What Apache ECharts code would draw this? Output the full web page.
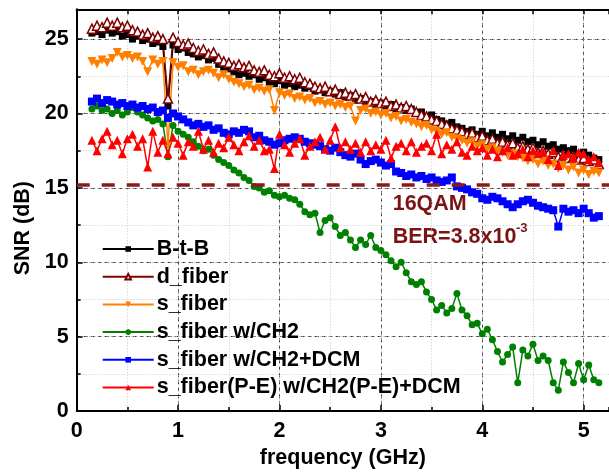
<!DOCTYPE html>
<html>
<head>
<meta charset="utf-8">
<script src="https://cdn.jsdelivr.net/npm/echarts@6/dist/echarts.min.js"></script>
<style>
html,body{margin:0;padding:0;background:#fff;}
#chart{width:609px;height:474px;}
</style>
</head>
<body>
<div id="chart"></div>
<script>
const freq = [
0.15,0.2,0.25,0.3,0.35,0.4,0.45,0.5,0.55,0.6,
0.65,0.7,0.75,0.8,0.85,0.9,0.95,1.0,1.05,1.1,
1.15,1.2,1.25,1.3,1.35,1.4,1.45,1.5,1.55,1.6,
1.65,1.7,1.75,1.8,1.85,1.9,1.95,2.0,2.05,2.1,
2.15,2.2,2.25,2.3,2.35,2.4,2.45,2.5,2.55,2.6,
2.65,2.7,2.75,2.8,2.85,2.9,2.95,3.0,3.05,3.1,
3.15,3.2,3.25,3.3,3.35,3.4,3.45,3.5,3.55,3.6,
3.65,3.7,3.75,3.8,3.85,3.9,3.95,4.0,4.05,4.1,
4.15,4.2,4.25,4.3,4.35,4.4,4.45,4.5,4.55,4.6,
4.65,4.7,4.75,4.8,4.85,4.9,4.95,5.0,5.05,5.1,
5.15];

const snrBtB = [
25.4,25.5,25.3,25.6,25.4,25.5,25.2,25.3,25.0,25.2,
24.9,25.0,24.7,24.8,24.5,20.5,24.6,24.3,24.4,24.1,
24.0,23.8,23.9,23.6,23.7,23.3,23.1,23.0,22.8,22.6,
22.7,22.5,22.6,22.3,22.4,22.1,22.0,22.2,21.9,22.0,
21.8,21.9,21.7,21.8,21.5,21.6,21.4,21.5,21.3,21.4,
21.1,21.2,20.9,21.0,20.7,20.8,20.6,20.7,20.5,20.6,
20.3,20.4,20.2,20.3,20.0,20.1,19.8,19.9,19.6,19.5,
19.3,19.4,19.1,19.0,18.8,18.9,18.6,18.8,18.5,18.7,
18.4,18.6,18.3,18.5,18.2,18.4,18.1,18.2,17.9,18.1,
17.8,17.9,17.6,17.7,17.5,17.6,17.3,17.4,17.2,17.0,
16.9];

const snrDFiber = [
25.7,25.9,25.8,26.1,25.9,26.1,25.8,25.9,25.6,25.5,
25.3,25.4,25.1,25.2,25.0,21.0,25.1,24.8,24.6,24.7,
24.4,24.2,24.3,24.0,24.1,23.7,23.5,23.4,23.2,23.3,
23.1,23.2,22.9,22.8,22.9,22.6,22.5,22.7,22.4,22.5,
22.3,22.4,22.1,22.0,21.8,21.7,21.8,21.5,21.6,21.3,
21.4,21.2,21.3,21.0,21.1,20.8,20.9,20.7,20.8,20.5,
20.6,20.4,20.5,20.3,20.1,19.9,19.8,19.6,19.5,19.3,
19.2,19.0,18.9,18.8,18.6,18.7,18.4,18.5,18.2,18.3,
18.0,18.1,17.9,18.0,17.7,17.8,17.6,17.7,17.4,17.5,
17.3,17.4,17.1,17.2,17.0,17.1,16.9,17.0,16.8,16.9,
16.6];

const snrSFiber = [
23.5,23.3,23.6,23.4,23.7,24.1,23.8,23.9,23.7,23.8,
23.5,22.8,23.6,23.3,23.5,17.9,23.4,23.1,23.2,22.8,
22.9,22.6,22.8,22.9,22.7,22.4,22.6,22.3,22.1,22.0,
21.8,21.9,21.6,21.7,21.5,21.6,20.2,21.4,21.2,21.3,
21.0,21.1,20.9,21.0,20.7,20.8,20.6,20.7,20.5,20.6,
20.4,20.5,19.5,20.2,20.3,20.0,20.1,19.9,20.0,19.7,
19.8,19.5,19.6,19.4,19.3,19.1,19.2,18.9,18.8,18.6,
18.7,18.4,18.3,18.2,18.0,18.1,17.8,17.9,17.6,17.7,
17.5,17.4,17.2,17.3,17.1,17.0,16.8,16.9,16.6,16.8,
16.5,16.6,16.3,16.5,16.2,16.4,16.0,16.2,15.9,16.1,
16.0];

const snrCH2 = [
20.3,20.5,20.2,20.3,20.0,20.2,19.9,20.1,20.4,20.1,
19.9,19.7,19.5,19.6,19.3,17.1,19.2,18.8,18.6,18.4,
18.1,17.8,17.5,17.6,17.2,16.9,16.7,16.5,16.2,16.0,
15.7,15.5,15.1,15.0,14.7,14.8,14.5,14.4,14.5,14.3,
14.2,13.9,13.4,13.2,13.3,12.0,12.8,13.0,12.4,11.8,
12.0,11.5,11.0,11.5,11.2,11.8,11.0,10.8,10.5,10.1,
9.7,10.0,9.3,8.7,8.5,8.7,8.0,7.5,6.8,7.1,
6.6,6.9,7.9,6.8,6.4,5.8,5.9,5.2,5.5,4.8,
4.0,3.3,3.8,4.3,1.9,4.1,3.7,4.5,3.4,3.7,
3.4,1.9,1.4,3.3,2.6,1.9,3.2,2.1,3.1,2.1,
1.9];

const snrCH2DCM = [
20.8,21.0,20.7,20.9,20.8,20.6,20.7,20.5,20.6,20.4,
20.5,20.3,20.4,20.1,20.2,19.7,20.0,19.8,19.6,19.4,
19.2,19.3,19.1,19.2,18.9,19.0,18.7,18.6,18.8,18.7,
18.9,18.8,18.4,18.5,18.2,18.1,17.9,18.0,18.2,18.3,
18.4,18.3,18.1,18.0,17.9,17.8,17.6,17.5,17.7,17.4,
17.2,17.1,17.3,16.9,16.6,16.8,16.9,16.7,16.5,16.6,
16.1,16.0,15.8,15.9,15.7,15.8,15.6,15.7,15.5,15.4,
15.5,15.7,15.1,15.0,14.9,14.7,14.6,14.3,14.2,14.4,
14.3,14.1,13.9,13.7,13.9,14.1,14.2,14.0,13.8,13.7,
13.6,13.5,12.4,13.6,13.4,13.5,13.3,13.6,13.3,13.0,
13.1];

const snrPE = [
18.2,17.5,18.3,18.8,17.9,18.2,17.3,18.3,18.6,17.8,
18.3,16.4,18.8,17.4,18.2,17.3,18.4,18.0,17.2,18.1,
17.8,18.8,17.6,18.2,17.4,18.0,17.7,18.4,17.9,17.5,
18.1,18.5,17.8,18.2,17.5,17.6,16.3,18.6,17.9,17.4,
18.0,18.3,17.2,17.8,18.1,18.4,17.6,18.2,19.1,17.7,
18.1,17.6,18.0,17.4,18.1,17.5,17.9,17.6,18.2,17.0,
17.8,18.0,17.5,18.1,17.4,17.8,18.0,17.5,18.6,17.3,
17.9,17.6,18.1,17.4,17.2,17.8,17.5,17.7,17.2,17.6,
17.1,17.5,17.7,17.2,17.3,17.6,17.1,17.5,17.3,17.4,
16.9,17.5,16.5,17.2,17.3,17.0,17.4,17.3,16.9,17.1,
16.7];

const seriesNames = ['B-t-B','d_fiber','s_fiber','s_fiber w/CH2','s_fiber w/CH2+DCM','s_fiber(P-E) w/CH2(P-E)+DCM'];
const threshold = 15.2;
const annotation1 = '16QAM';
const annotation2 = 'BER=3.8x10';
const annotationSup = '-3';

const FONT = '"Liberation Sans", Arial, sans-serif';
const pairs = arr => freq.map((f, i) => [f, arr[i]]);

const styles = [
  {color:'#000000', symbol:'rect', size:7},
  {color:'#800000', symbol:'triangle', size:9, hollow:true},
  {color:'#ff8000', symbol:'triangle', size:9, rotate:180},
  {color:'#008000', symbol:'circle', size:7},
  {color:'#0000ff', symbol:'rect', size:8},
  {color:'#ff0000', symbol:'triangle', size:9}
];
const values = [snrBtB, snrDFiber, snrSFiber, snrCH2, snrCH2DCM, snrPE];

const series = values.map((v, k) => {
  const s = styles[k];
  const o = {
    name: seriesNames[k],
    type: 'line',
    xAxisIndex: 0,
    yAxisIndex: 0,
    data: pairs(v),
    symbol: s.symbol,
    symbolSize: s.size,
    symbolRotate: s.rotate || 0,
    showAllSymbol: true,
    lineStyle: {color: s.color, width: 1.5},
    itemStyle: s.hollow ? {color:'#ffffff', borderColor: s.color, borderWidth: 1.5} : {color: s.color},
    emphasis: {disabled: true},
    animation: false
  };
  if (k === 5) {
    o.markLine = {
      silent: true,
      symbol: ['none','none'],
      label: {show: false},
      lineStyle: {color:'#8b1a1a', width: 3.5, type: [13, 12]},
      data: [{yAxis: threshold}]
    };
  }
  return o;
});

const chart = echarts.init(document.getElementById('chart'), null, {renderer:'canvas'});
chart.setOption({
  animation: false,
  backgroundColor: '#ffffff',
  grid: {left: 76.7, top: 9.3, right: -4.3, bottom: 62.7, containLabel: false},
  xAxis: [
    {
      type:'value', min:0, max:5.25, interval:1, position:'bottom',
      name:'frequency (GHz)', nameLocation:'middle', nameGap:34,
      nameTextStyle:{fontFamily:FONT, fontWeight:'bold', fontSize:21.5, color:'#000'},
      axisLine:{show:true, onZero:false, lineStyle:{color:'#000', width:2}},
      axisTick:{show:true, inside:true, length:6, lineStyle:{color:'#000', width:1.5}},
      axisLabel:{fontFamily:FONT, fontWeight:'bold', fontSize:21.5, color:'#000', margin:9, showMaxLabel:false},
      splitLine:{show:true, lineStyle:{color:'#333', width:1, type:[4,3]}}
    },
    {
      type:'value', min:0, max:5.25, interval:0.5, position:'bottom',
      axisLine:{show:false},
      axisTick:{show:true, inside:true, length:4, lineStyle:{color:'#000', width:1.5}},
      axisLabel:{show:false},
      splitLine:{show:true, lineStyle:{color:'#c8c8c8', width:1, type:[1,2]}}
    },
    {
      type:'value', min:0, max:5.25, interval:0.5, position:'top',
      axisLine:{show:true, onZero:false, lineStyle:{color:'#000', width:2}},
      axisTick:{show:true, inside:true, length:5, lineStyle:{color:'#000', width:1.5}},
      axisLabel:{show:false},
      splitLine:{show:false}
    }
  ],
  yAxis: [
    {
      type:'value', min:0, max:27, interval:5, position:'left',
      name:'SNR (dB)', nameLocation:'middle', nameGap:42,
      nameTextStyle:{fontFamily:FONT, fontWeight:'bold', fontSize:21.5, color:'#000', padding:[0,36,0,0]},
      axisLine:{show:true, onZero:false, lineStyle:{color:'#000', width:2}},
      axisTick:{show:true, inside:true, length:6, lineStyle:{color:'#000', width:1.5}},
      axisLabel:{fontFamily:FONT, fontWeight:'bold', fontSize:21.5, color:'#000', margin:8, showMaxLabel:false},
      splitLine:{show:true, lineStyle:{color:'#333', width:1, type:[4,3]}}
    },
    {
      type:'value', min:0, max:27, interval:2.5, position:'left',
      axisLine:{show:false},
      axisTick:{show:true, inside:true, length:4, lineStyle:{color:'#000', width:1.5}},
      axisLabel:{show:false},
      splitLine:{show:true, lineStyle:{color:'#c8c8c8', width:1, type:[1,2]}}
    }
  ],
  legend: {
    orient:'vertical', left:96.7, top:233,
    itemWidth:51, itemHeight:7, itemGap:5.7,
    textStyle:{fontFamily:FONT, fontWeight:'bold', fontSize:21.5, color:'#000', lineHeight:22, padding:[0,0,0,-2]},
    data: seriesNames,
    selectedMode:false
  },
  graphic: [
    {type:'text', left:392.7, top:193, silent:true,
     style:{text:annotation1, fontFamily:FONT, fontWeight:'bold', fontSize:21.5, fill:'#7a1414'}},
    {type:'text', left:392.7, top:226, silent:true,
     style:{text:annotation2, fontFamily:FONT, fontWeight:'bold', fontSize:21.5, fill:'#7a1414'}},
    {type:'text', left:516, top:222, silent:true,
     style:{text:annotationSup, fontFamily:FONT, fontWeight:'bold', fontSize:13, fill:'#7a1414'}}
  ],
  series: series
});
</script>
</body>
</html>
